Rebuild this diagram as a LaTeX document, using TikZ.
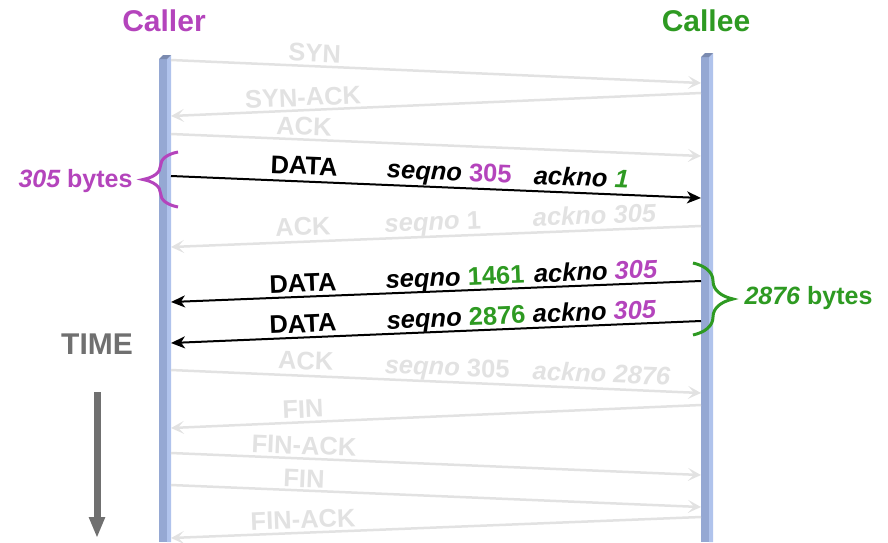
\documentclass[tikz,border=0pt]{standalone}
\usepackage{fontspec}
\setmainfont{Liberation Sans}
\usepackage{xcolor}
\usetikzlibrary{arrows.meta,positioning,decorations.pathreplacing}

\definecolor{callerpurple}{HTML}{B444BC}
\definecolor{calleegreen}{HTML}{2E9A22}
\definecolor{fadegray}{HTML}{E2E2E2}
\definecolor{timegray}{HTML}{707070}
\definecolor{barfront}{HTML}{95A8D3}
\definecolor{barside}{HTML}{B0C3EC}
\definecolor{bartop}{HTML}{7A8AB0}

\begin{document}
\begin{tikzpicture}[
      x = 1pt, y = -1pt,
      title/.style = {font=\fontsize{30}{36}\selectfont\bfseries},
      sidenote/.style = {font=\fontsize{25}{30}\selectfont\bfseries},
      lbl/.style = {sloped, above=#1, inner sep=0pt, text depth=0pt, font=\fontsize{25.5}{30}\selectfont\bfseries},
      lbl/.default = 5pt,
      faded/.style = {-{Stealth[length=13pt,width=13pt,inset=6pt]}, line width=2.5pt, fadegray, text=fadegray},
      data/.style = {-{Stealth[length=14pt,width=12pt,inset=4pt]}, line width=2pt, black},
      bytebrace/.style = {decorate, decoration={brace, amplitude=#1}, line width=3pt}
    ]
    \useasboundingbox (0,0) rectangle (888,542);

    % life lines
    \foreach \bx/\by in {159/59, 701/57} {
      \fill[barfront] (\bx,\by) rectangle (\bx+8,542);
      \fill[barside] (\bx+8,\by) -- (\bx+12,\by-4) -- (\bx+12,542) -- (\bx+8,542) -- cycle;
      \fill[bartop] (\bx,\by) -- (\bx+4,\by-4) -- (\bx+12,\by-4) -- (\bx+8,\by) -- cycle;
    }

    \node[title, text=callerpurple] (caller) at (164,21) {Caller};
    \node[title, text=calleegreen]  (callee) at (706,21) {Callee};
    \node[title, text=timegray]     (time)   at (97,344) {TIME};

    % message ends on the caller side
    \coordinate (c1) at (171,60);   \coordinate (c2) at (171,116);
    \coordinate (c3) at (171,134);  \coordinate (c4) at (171,176);
    \coordinate (c5) at (171,247);  \coordinate (c6) at (171,302);
    \coordinate (c7) at (171,343);  \coordinate (c8) at (171,370);
    \coordinate (c9) at (171,428);  \coordinate (c10) at (171,453);
    \coordinate (c11) at (171,485); \coordinate (c12) at (171,538);
    % message ends on the callee side
    \coordinate (e1) at (701,83);   \coordinate (e2) at (701,93);
    \coordinate (e3) at (701,156);  \coordinate (e4) at (701,198);
    \coordinate (e5) at (701,226);  \coordinate (e6) at (701,281);
    \coordinate (e7) at (701,321);  \coordinate (e8) at (701,393);
    \coordinate (e9) at (701,405);  \coordinate (e10) at (701,475);
    \coordinate (e11) at (701,507); \coordinate (e12) at (701,517);

    % handshake
    \draw[faded] (c1) -- node[lbl=3pt, pos=.27] (syn) {SYN} (e1);
    \draw[faded] (e2) -- node[lbl=3pt, pos=.75] (synack) {SYN-ACK} (c2);
    \draw[faded] (c3) -- node[lbl=3pt, pos=.25] (ack) {ACK} (e3);

    % data exchange
    \draw[data] (c4) -- node[lbl=6pt, pos=.25] (data1) {DATA}
      node[lbl=6pt, pos=.524] (seq1) {{\itshape seqno} \textcolor{callerpurple}{305}}
      node[lbl=6pt, pos=.773] (ackn1) {\itshape ackno \textcolor{calleegreen}{1}} (e4);
    \draw[faded] (e5) -- node[lbl, pos=.75] (ack2) {ACK}
      node[lbl, pos=.505] (seq2) {{\itshape seqno} 1}
      node[lbl, pos=.20] (ackn2) {\itshape ackno 305} (c5);
    \draw[data] (e6) -- node[lbl=4pt, pos=.75] (data2) {DATA}
      node[lbl=4pt, pos=.463] (seq3) {{\itshape seqno} \textcolor{calleegreen}{1461}}
      node[lbl=4pt, pos=.198] (ackn3) {\itshape ackno \textcolor{callerpurple}{305}} (c6);
    \draw[data] (e7) -- node[lbl=4pt, pos=.75] (data3) {DATA}
      node[lbl=4pt, pos=.461] (seq4) {{\itshape seqno} \textcolor{calleegreen}{2876}}
      node[lbl=4pt, pos=.20] (ackn4) {\itshape ackno \textcolor{callerpurple}{305}} (c7);
    \draw[faded] (c8) -- node[lbl, pos=.253] (ack3) {ACK}
      node[lbl, pos=.52] (seq5) {{\itshape seqno} 305}
      node[lbl, pos=.811] (ackn5) {\itshape ackno 2876} (e8);

    % teardown
    \draw[faded] (e9) -- node[lbl=3pt, pos=.75] (fin1) {FIN} (c9);
    \draw[faded] (c10) -- node[lbl=3pt, pos=.25] (finack1) {FIN-ACK} (e10);
    \draw[faded] (c11) -- node[lbl=2pt, pos=.25] (fin2) {FIN} (e11);
    \draw[faded] (e12) -- node[lbl=3pt, pos=.75] (finack2) {FIN-ACK} (c12);

    % segment sizes
    \draw[bytebrace=35pt, callerpurple] (178,207) -- (178,152);
    \node[sidenote, text=callerpurple, anchor=east] (size1) at (136,181) {{\itshape 305} bytes};
    \draw[bytebrace=40pt, calleegreen] (693,263) -- (693,335);
    \node[sidenote, text=calleegreen, anchor=west] (size2) at (741,298) {{\itshape 2876} bytes};

    % time axis
    \coordinate (tstart) at (97,392);
    \coordinate (tend) at (97,538);
    \draw[timegray, line width=7pt, -{Triangle[length=21pt,width=15pt]}] (tstart) -- (tend);
  \end{tikzpicture}
\end{document}
